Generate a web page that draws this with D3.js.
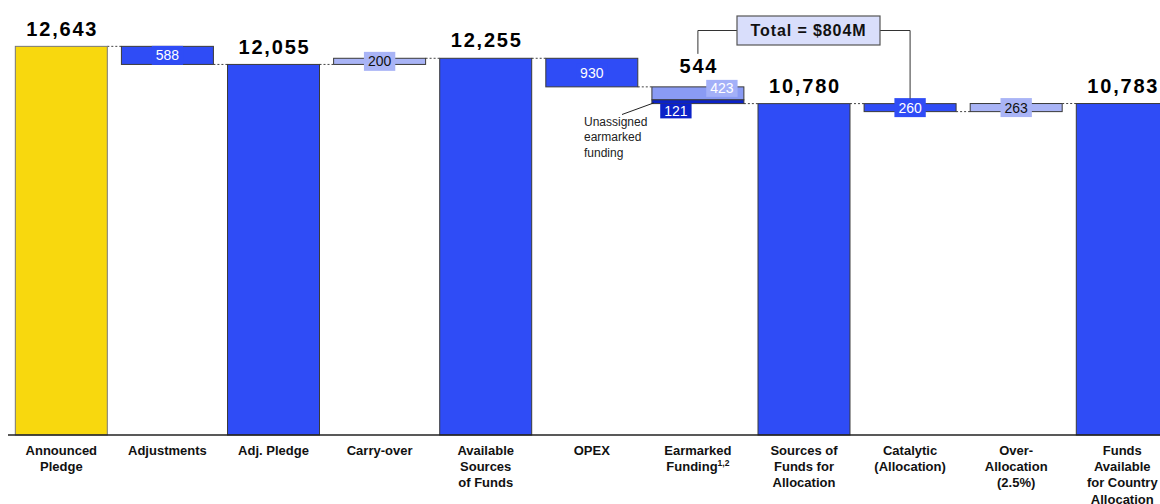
<!DOCTYPE html>
<html>
<head>
<meta charset="utf-8">
<script src="https://cdn.jsdelivr.net/npm/d3@7/dist/d3.min.js"></script>
<style>
  html, body { margin: 0; padding: 0; background: #fff; }
  svg { display: block; font-family: "Liberation Sans", Arial, Helvetica, sans-serif; }
</style>
</head>
<body>
<svg id="chart" width="1160" height="504"></svg>
<script>
// Waterfall of funds, in US$ millions
const categories = [
  "Announced Pledge", "Adjustments", "Adj. Pledge", "Carry-over",
  "Available Sources of Funds", "OPEX", "Earmarked Funding",
  "Sources of Funds for Allocation", "Catalytic (Allocation)",
  "Over-Allocation (2.5%)", "Funds Available for Country Allocation"
];
const labelLines = [
  ["Announced", "Pledge"], ["Adjustments"], ["Adj. Pledge"], ["Carry-over"],
  ["Available", "Sources", "of Funds"], ["OPEX"], ["Earmarked", "Funding"],
  ["Sources of", "Funds for", "Allocation"], ["Catalytic", "(Allocation)"],
  ["Over-", "Allocation", "(2.5%)"], ["Funds", "Available", "for Country", "Allocation"]
];
// "total" bars start at zero, the others step from the running level
const kinds = ["total", "change", "total", "change", "total", "change", "split", "total", "change", "change", "total"];
const values = [12643, -588, 12055, 200, 12255, -930, -544, 10780, -260, 263, 10783];
// Earmarked funding: assigned part, then unassigned part
const earmarkedParts = [423, 121];
const totalLabel = "Total = $804M";
const annotationLines = ["Unassigned", "earmarked", "funding"];

const C = {
  yellow: "#f8d80e",
  blue: "#2f4cf6",
  light: "#a9b4f6",
  earmark: "#8a9bf4",
  earmarkBox: "#a3b0f8",
  dark: "#0b22c8",
  stroke: "#3a3a3a"
};

const svg = d3.select("#chart");
const baseY = 435;

const x = d3.scaleBand().domain(categories).range([8, 1175.6])
  .paddingInner(0.133).paddingOuter(0.069);
const y = d3.scaleLinear().domain([0, 14000]).range([baseY, baseY - 14000 * 0.03074]);

// compute bar extents
let level = 0;
const bars = categories.map((c, i) => {
  const k = kinds[i], v = values[i];
  let lo, hi, end;
  if (k === "total") { lo = 0; hi = v; end = v; }
  else { end = level + v; lo = Math.min(level, end); hi = Math.max(level, end); }
  const d = { c, i, k, v, lo, hi, start: level, end };
  level = end;
  return d;
});

const bw = x.bandwidth();
const cx = c => x(c) + bw / 2;

// connectors
const conn = svg.append("g");
bars.slice(0, -1).forEach((d, i) => {
  const n = bars[i + 1];
  const lv = n.k === "total" ? n.v : d.end;
  conn.append("line")
    .attr("x1", x(d.c) + bw).attr("x2", x(n.c))
    .attr("y1", y(lv)).attr("y2", y(lv))
    .attr("stroke", "#444").attr("stroke-width", 1)
    .attr("stroke-dasharray", "2,2");
});

// bars
const barG = svg.append("g");
bars.forEach(d => {
  if (d.k === "split") {
    const top = d.start, mid = d.start - earmarkedParts[0], bot = mid - earmarkedParts[1];
    barG.append("rect").attr("x", x(d.c)).attr("width", bw)
      .attr("y", y(top)).attr("height", y(mid) - y(top))
      .attr("fill", C.earmark).attr("stroke", C.stroke).attr("stroke-width", 1);
    barG.append("rect").attr("x", x(d.c)).attr("width", bw)
      .attr("y", y(mid)).attr("height", y(bot) - y(mid))
      .attr("fill", C.dark).attr("stroke", C.stroke).attr("stroke-width", 1);
    return;
  }
  let fill = C.blue;
  if (d.i === 0) fill = C.yellow;
  else if (d.k === "change" && d.v > 0) fill = C.light;
  barG.append("rect").attr("x", x(d.c)).attr("width", bw)
    .attr("y", y(d.hi)).attr("height", y(d.lo) - y(d.hi))
    .attr("fill", fill)
    .attr("stroke", d.i === 0 ? "#777" : C.stroke).attr("stroke-width", 1);
});

// axis line
svg.append("line").attr("x1", 8).attr("x2", 1160).attr("y1", baseY).attr("y2", baseY)
  .attr("stroke", "#222").attr("stroke-width", 1.5);

const fmt = d3.format(",");

// totals above the bars
const topLabels = svg.append("g").attr("font-weight", "bold").attr("font-size", 20)
  .attr("letter-spacing", "1.8px").attr("text-anchor", "middle").attr("fill", "#000");
bars.filter(d => d.k === "total").forEach(d => {
  topLabels.append("text").attr("x", cx(d.c) + 1).attr("y", y(d.v) - 10.8).text(fmt(d.v));
});
// earmarked total above its bar
const earm = bars[6];
topLabels.append("text").attr("x", cx(earm.c) + 1).attr("y", y(earm.start) - 14)
  .text(fmt(-earm.v));

// boxed value labels
function boxLabel(px, py, text, bg, color, h) {
  const g = svg.append("g");
  const t = g.append("text").attr("x", px).attr("y", py).attr("dy", "0.36em")
    .attr("text-anchor", "middle").attr("font-size", 14).attr("fill", color).text(text);
  const w = t.node().getComputedTextLength() + 8;
  g.insert("rect", "text").attr("x", px - w / 2).attr("y", py - h / 2)
    .attr("width", w).attr("height", h).attr("fill", bg);
}
bars.filter(d => d.k === "change").forEach(d => {
  const py = (y(d.lo) + y(d.hi)) / 2;
  const light = d.v > 0;
  boxLabel(cx(d.c), py, fmt(Math.abs(d.v)), light ? C.light : C.blue, light ? "#111" : "#fff", 19);
});
{
  const yTop = y(earm.start), yMid = y(earm.start - earmarkedParts[0]);
  const yBot = y(earm.start - earmarkedParts[0] - earmarkedParts[1]);
  boxLabel(cx(earm.c) + 24, yTop + 1.5, fmt(earmarkedParts[0]), C.earmarkBox, "#fff", 17);
  boxLabel(cx(earm.c) - 22, yBot + 7.3, fmt(earmarkedParts[1]), C.dark, "#fff", 15);

  // annotation for the unassigned part
  svg.append("line").attr("x1", 622).attr("y1", 114.5)
    .attr("x2", x(earm.c) + 2).attr("y2", yMid + 3)
    .attr("stroke", "#222").attr("stroke-width", 1);
  const ann = svg.append("text").attr("font-size", 12).attr("fill", "#222");
  annotationLines.forEach((l, i) => {
    ann.append("tspan").attr("x", 584).attr("y", 126 + i * 15.3).text(l);
  });
}

// total box bracketing earmarked funding and catalytic
{
  const cat = bars[8];
  const bx = 737, by = 16, bwid = 143, bh = 29;
  svg.append("path")
    .attr("d", `M${cx(earm.c)},${y(earm.start) - 33} V${by + bh / 2} H${bx}` +
               ` M${bx + bwid},${by + bh / 2} H${cx(cat.c)} V${y(cat.hi) - 5}`)
    .attr("fill", "none").attr("stroke", "#333").attr("stroke-width", 1);
  svg.append("rect").attr("x", bx).attr("y", by).attr("width", bwid).attr("height", bh)
    .attr("fill", "#d9defb").attr("stroke", "#555").attr("stroke-width", 1.2);
  svg.append("text").attr("x", bx + bwid / 2).attr("y", by + bh / 2).attr("dy", "0.36em")
    .attr("text-anchor", "middle").attr("font-weight", "bold").attr("font-size", 16)
    .attr("letter-spacing", "0.9px").attr("fill", "#111").text(totalLabel);
}

// category labels
const catG = svg.append("g").attr("font-weight", "bold").attr("font-size", 13)
  .attr("text-anchor", "middle").attr("fill", "#111");
categories.forEach((c, i) => {
  const t = catG.append("text");
  labelLines[i].forEach((l, j) => {
    const s = t.append("tspan").attr("x", cx(c)).attr("y", 455 + j * 16.2).text(l);
  });
  if (c === "Earmarked Funding") {
    t.append("tspan").attr("font-size", 8.5).attr("dy", -5).text("1,2");
  }
});
</script>
</body>
</html>
